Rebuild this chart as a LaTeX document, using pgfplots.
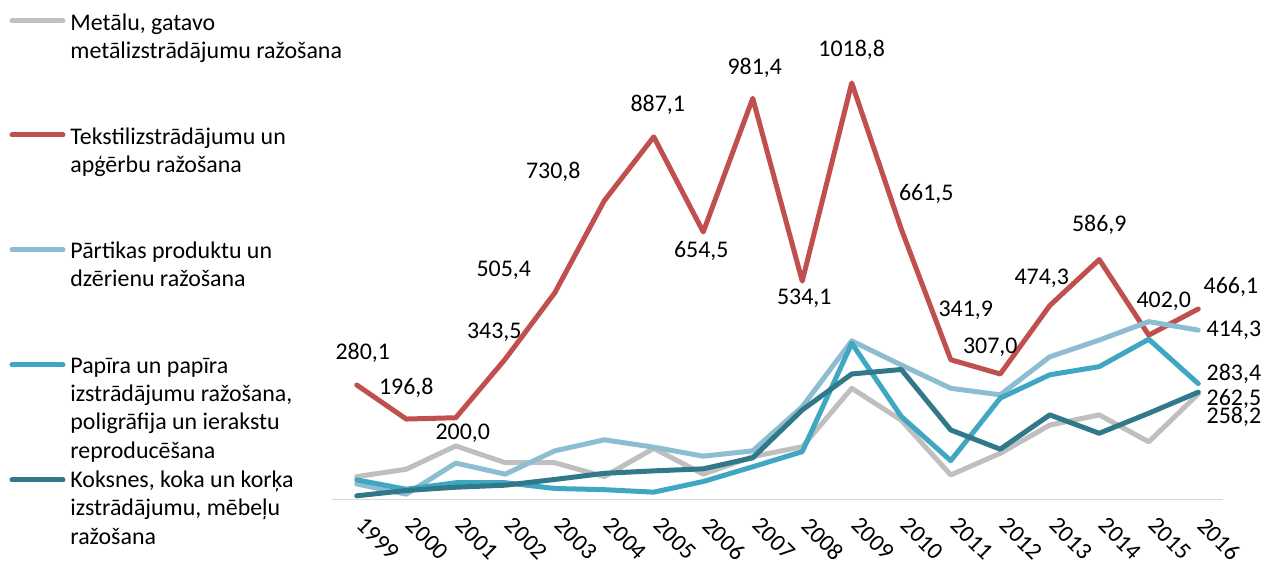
\documentclass[border=0pt]{standalone}
\usepackage{fontspec}
\setmainfont{Carlito}
\usepackage{pgfplots}
\usepackage{pgfplotstable}
\pgfplotsset{compat=1.18}
\definecolor{cgray}{HTML}{BFBFBF}
\definecolor{cred}{HTML}{C0504D}
\definecolor{clight}{HTML}{8DBDD1}
\definecolor{cmed}{HTML}{3FA7C1}
\definecolor{cdark}{HTML}{31788A}
\pgfplotstableread{
year gray red light med dark
1999 56 280.1 38 48 9
2000 74 196.8 13 25 22
2001 131 200.0 89 41 30
2002 90 343.5 62 41 35
2003 90 505.4 119 27 49
2004 56 730.8 146 24 64
2005 125 887.1 128 18 70
2006 62 654.5 106 44 75
2007 105 981.4 119 80 102
2008 129 534.1 227 117 219
2009 272 1018.8 388 382 307
2010 194 661.5 329 203 318
2011 60 341.9 272 95 170
2012 113 307.0 256 248 123
2013 182 474.3 349 305 207
2014 207 586.9 390 325 162
2015 141 402.0 435 392 211
2016 258.2 466.1 414.3 283.4 262.5
}\datatable
\begin{document}
\fontsize{12}{14.2}\selectfont
\begin{tikzpicture}
\useasboundingbox (0,0) rectangle (630.5bp,282.5bp);
\begin{axis}[
  at={(166bp,32.75bp)}, anchor=south west,
  scale only axis, width=445.5bp, height=245.3bp,
  xmin=1998.5, xmax=2016.5, ymin=0, ymax=1200,
  axis y line=none, axis x line*=bottom,
  x axis line style={draw=black!15, line width=0.75bp, -},
  xtick={1999,...,2016},
  xticklabels={1999,2000,2001,2002,2003,2004,2005,2006,2007,2008,2009,2010,2011,2012,2013,2014,2015,2016},
  major tick length=0pt,
  xticklabel style={rotate=-45, anchor=north west, font=\fontsize{12}{14}\selectfont, inner sep=0pt, xshift=9bp, yshift=-2.2bp},
  clip=false,
  every axis plot/.append style={line width=2.5bp, line join=round, line cap=round, mark=none},
  nodes={font=\fontsize{12}{14}\selectfont, inner sep=0pt},
]
\addplot[cgray] table[x=year,y=gray] {\datatable};
\addplot[cred] table[x=year,y=red] {\datatable};
\addplot[clight] table[x=year,y=light] {\datatable};
\addplot[cmed] table[x=year,y=med] {\datatable};
\addplot[cdark] table[x=year,y=dark] {\datatable};
% data labels
\node[shift={(3bp,16bp)}] at (axis cs:1999,280.1) {280,1};
\node[shift={(0bp,15.5bp)}] at (axis cs:2000,196.8) {196,8};
\node[shift={(3.5bp,-8bp)}] at (axis cs:2001,200.0) {200,0};
\node[shift={(-5.5bp,13.5bp)}] at (axis cs:2002,343.5) {343,5};
\node[shift={(-25.5bp,11.5bp)}] at (axis cs:2003,505.4) {505,4};
\node[shift={(-25.5bp,14.5bp)}] at (axis cs:2004,730.8) {730,8};
\node[shift={(2bp,16bp)}] at (axis cs:2005,887.1) {887,1};
\node[shift={(-1bp,-9.5bp)}] at (axis cs:2006,654.5) {654,5};
\node[shift={(1bp,15bp)}] at (axis cs:2007,981.4) {981,4};
\node[shift={(1bp,-8.5bp)}] at (axis cs:2008,534.1) {534,1};
\node[shift={(0bp,16.5bp)}] at (axis cs:2009,1018.8) {1018,8};
\node[shift={(12.5bp,17.5bp)}] at (axis cs:2010,661.5) {661,5};
\node[shift={(7.5bp,24.5bp)}] at (axis cs:2011,341.9) {341,9};
\node[shift={(-5bp,13.5bp)}] at (axis cs:2012,307.0) {307,0};
\node[shift={(-4bp,13.5bp)}] at (axis cs:2013,474.3) {474,3};
\node[shift={(0bp,17.5bp)}] at (axis cs:2014,586.9) {586,9};
\node[shift={(7.5bp,17bp)}] at (axis cs:2015,402.0) {402,0};
\node[anchor=west, shift={(2.5bp,11bp)}] at (axis cs:2016,466.1) {466,1};
\node[anchor=west, shift={(4bp,0bp)}] at (axis cs:2016,414.3) {414,3};
\node[anchor=west, shift={(4bp,4.8bp)}] at (axis cs:2016,283.4) {283,4};
\node[anchor=west, shift={(4bp,-3.5bp)}] at (axis cs:2016,262.5) {262,5};
\node[anchor=west, shift={(4bp,-11.5bp)}] at (axis cs:2016,258.2) {258,2};
\end{axis}
% legend
\begin{scope}[x=0.5bp, y=-0.5bp, shift={(0,282.5bp)}, every node/.style={anchor=base west, inner sep=0pt}]
\draw[cgray, line width=2.5bp, line cap=round] (12,21) -- (63,21);
\node at (70,30.5) {Metālu, gatavo};
\node at (70,58.5) {metālizstrādājumu ražošana};
\draw[cred, line width=2.5bp, line cap=round] (12,135) -- (63,135);
\node at (70,145) {Tekstilizstrādājumu un};
\node at (70,173) {apģērbu ražošana};
\draw[clight, line width=2.5bp, line cap=round] (12,250) -- (63,250);
\node at (70,259) {Pārtikas produktu un};
\node at (70,287) {dzērienu ražošana};
\draw[cmed, line width=2.5bp, line cap=round] (12,365) -- (63,365);
\node at (70,373.3) {Papīra un papīra};
\node at (70,401.7) {izstrādājumu ražošana,};
\node at (70,430) {poligrāfija un ierakstu};
\node at (70,458.3) {reproducēšana};
\draw[cdark, line width=2.5bp, line cap=round] (12,480) -- (63,480);
\node at (70,487.5) {Koksnes, koka un korķa};
\node at (70,516) {izstrādājumu, mēbeļu};
\node at (70,544.5) {ražošana};
\end{scope}
\end{tikzpicture}
\end{document}
